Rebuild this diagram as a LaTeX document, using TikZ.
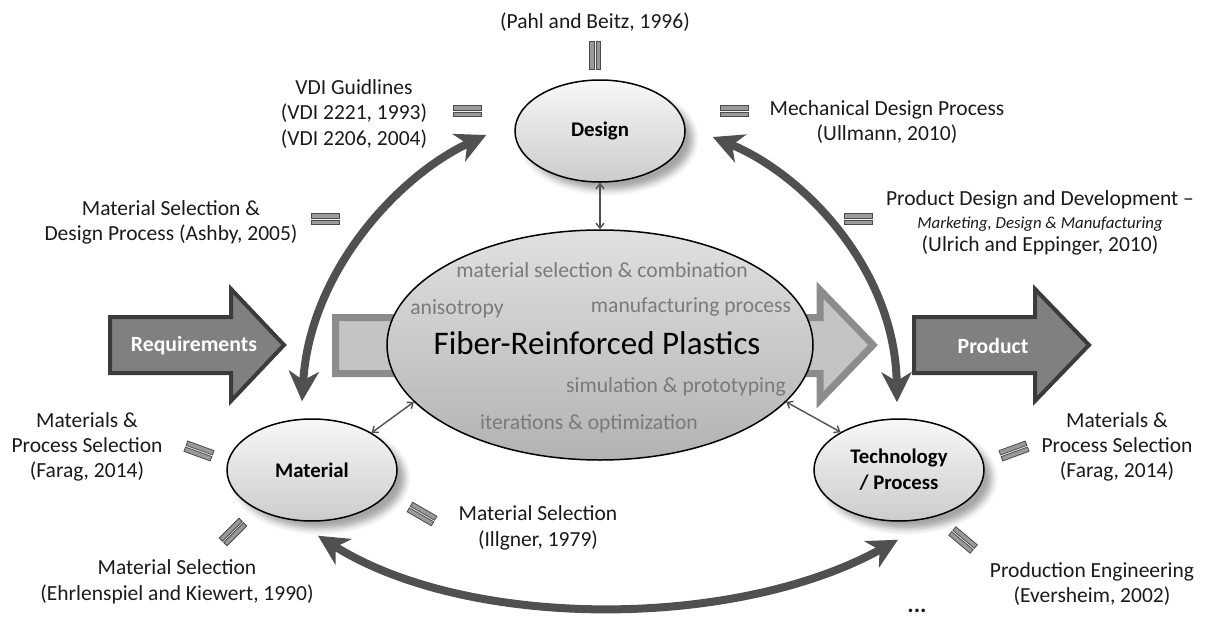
\documentclass[tikz,border=0pt]{standalone}
\usepackage{fontspec}
\setmainfont{Carlito}
\usetikzlibrary{shapes.geometric,arrows.meta,shadows.blur,calc}
\definecolor{arcgray}{HTML}{505050}
\definecolor{bargray}{HTML}{9A9A9A}
\definecolor{bardark}{HTML}{4A4A4A}
\definecolor{frptext}{HTML}{7A7A7A}
\definecolor{captext}{HTML}{1A1A1A}
\begin{document}
\begin{tikzpicture}[x=1pt,y=-1pt,
  captxt/.style={font=\fontsize{21.5}{25}\selectfont, text=captext, inner sep=0pt, anchor=base},
  capit/.style={font=\fontsize{16.8}{19}\selectfont\itshape, text=captext, inner sep=0pt, anchor=base},
  frpsmall/.style={font=\fontsize{21.6}{25}\selectfont, text=frptext, inner sep=0pt, anchor=base},
  bubble/.style={ellipse, draw=black, line width=1.5pt, minimum width=170pt, minimum height=102pt,
    inner sep=0pt, top color=white!97!black, bottom color=black!20, align=center,
    font=\fontsize{20.8}{26}\selectfont\bfseries,
    blur shadow={shadow xshift=8pt, shadow yshift=-8pt, shadow opacity=35, shadow blur radius=6pt}},
  bigarc/.style={draw=arcgray, line width=8pt, {Stealth[length=30pt,width=30pt,inset=9pt]}-{Stealth[length=30pt,width=30pt,inset=9pt]}},
  thinarrow/.style={draw=arcgray, line width=1.4pt, {Straight Barb[length=5pt,width=8pt]}-{Straight Barb[length=5pt,width=8pt]}},
  bigblock/.style={draw=black!77, fill=black!50, line width=4pt, line join=miter},
  blocktxt/.style={font=\fontsize{21.7}{25}\selectfont\bfseries, text=white},
  dbar/.pic={\draw[fill=bargray, draw=bardark, line width=0.8pt]
     (-14pt,-5.5pt) rectangle (14pt,-0.9pt) (-14pt,0.9pt) rectangle (14pt,5.5pt);}
]
\useasboundingbox (0,0) rectangle (1205,616);

% background gray arrow through the FRP ellipse
\draw[draw=black!45, fill=black!23, line width=7pt, line join=miter]
  (335.5,317.5) -- (820,317.5) -- (820,290) -- (873,345) -- (820,400) -- (820,373.5) -- (335.5,373.5) -- cycle;

% Requirements / Product block arrows
\draw[bigblock] (110,317) -- (231,317) -- (231,289) -- (284,345) -- (231,401) -- (231,373) -- (110,373) -- cycle;
\node[blocktxt] (req) at (194,346) {Requirements};
\draw[bigblock] (914,317) -- (1035,317) -- (1035,289) -- (1089,345) -- (1035,401) -- (1035,373) -- (914,373) -- cycle;
\node[blocktxt] (prod) at (993,346) {Product};

% central ellipse
\node[ellipse, draw=black, line width=1.5pt, minimum width=426pt, minimum height=230pt, inner sep=0pt,
  top color=black!12, bottom color=black!30] (frp) at (600,345) {};
\node[font=\fontsize{33}{38}\selectfont, text=black, inner sep=0pt] (frptitle) at (597,343) {Fiber-Reinforced Plastics};
\node[frpsmall] (t1) at (602,277) {material selection \& combination};
\node[frpsmall] (t2) at (457,314) {anisotropy};
\node[frpsmall] (t3) at (691,312) {manufacturing process};
\node[frpsmall] (t4) at (676,392) {simulation \& prototyping};
\node[frpsmall] (t5) at (589,429) {iterations \& optimization};

% three bubbles
\node[bubble] (design) at (600,131) {Design};
\node[bubble] (material) at (312,470) {Material};
\node[bubble] (tech) at (899,470) {Technology\\/ Process};

% thin connectors
\draw[thinarrow] (design.south) -- (frp.north);
\draw[thinarrow] (material.32) -- (frp.197);
\draw[thinarrow] (tech.147) -- (frp.343);

% big arcs
\draw[bigarc] ([shift={(-28,4)}]design.west) .. controls (400,175) and (310,270) .. ([shift={(-10,-17)}]material.north);
\draw[bigarc] ([shift={(27,6)}]design.east) .. controls (805,175) and (895,270) .. ([shift={(-2,-16)}]tech.north);
\draw[bigarc] ([shift={(6,14)}]material.south) .. controls (468,630) and (735,630) .. ([shift={(-1,18)}]tech.south);

% double bars
\pic[rotate=90] at (595,55) {dbar};
\pic at (467,111) {dbar};
\pic at (734,111) {dbar};
\pic at (325,219) {dbar};
\pic at (858,219) {dbar};
\pic[rotate=-20] at (199,451) {dbar};
\pic[rotate=45] at (233,532) {dbar};
\pic[rotate=-30] at (422,514) {dbar};
\pic[rotate=20] at (1014,451) {dbar};
\pic[rotate=-40] at (963,540) {dbar};

% captions
\node[captxt] (pahl) at (595,28) {(Pahl and Beitz, 1996)};
\node[captxt] (vdi1) at (354,94) {VDI Guidlines};
\node[captxt] (vdi2) at (354,119) {(VDI 2221, 1993)};
\node[captxt] (vdi3) at (354,145) {(VDI 2206, 2004)};
\node[captxt] (mech1) at (887,115) {Mechanical Design Process};
\node[captxt] (mech2) at (887,140) {(Ullmann, 2010)};
\node[captxt] (ash1) at (171,215) {Material Selection \&};
\node[captxt] (ash2) at (171,240) {Design Process (Ashby, 2005)};
\node[captxt] (ulr1) at (1040,205) {Product Design and Development --};
\node[capit] (ulr2) at (1040,228) {Marketing, Design \& Manufacturing};
\node[captxt] (ulr3) at (1040,251) {(Ulrich and Eppinger, 2010)};
\node[captxt] (fl1) at (87,427) {Materials \&};
\node[captxt] (fl2) at (87,452) {Process Selection};
\node[captxt] (fl3) at (87,477) {(Farag, 2014)};
\node[captxt] (fr1) at (1117,427) {Materials \&};
\node[captxt] (fr2) at (1117,452) {Process Selection};
\node[captxt] (fr3) at (1117,477) {(Farag, 2014)};
\node[captxt] (ehr1) at (177,574) {Material Selection};
\node[captxt] (ehr2) at (177,600) {(Ehrlenspiel and Kiewert, 1990)};
\node[captxt] (ill1) at (538,520) {Material Selection};
\node[captxt] (ill2) at (538,546) {(Illgner, 1979)};
\node[captxt] (ev1) at (1092,577) {Production Engineering};
\node[captxt] (ev2) at (1092,602) {(Eversheim, 2002)};
\node[captxt, font=\fontsize{24}{26}\selectfont\bfseries] (dots) at (917,612) {...};
\end{tikzpicture}
\end{document}
